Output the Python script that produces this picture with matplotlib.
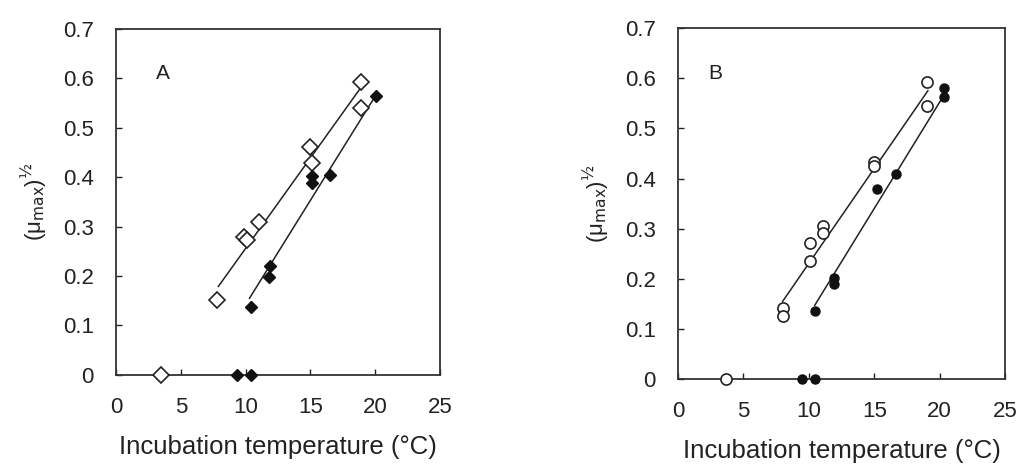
import matplotlib
matplotlib.use("Agg")
import matplotlib.pyplot as plt

plt.rcParams["font.family"] = ["Liberation Sans", "DejaVu Sans"]

# panel A
a_open_x = [3.5, 7.8, 9.9, 10.1, 11.0, 15.0, 15.1, 18.9, 18.9]
a_open_y = [0.0, 0.152, 0.28, 0.273, 0.31, 0.462, 0.429, 0.592, 0.54]
a_fill_x = [9.3, 10.4, 10.4, 11.9, 11.8, 15.1, 15.1, 16.5, 20.1]
a_fill_y = [0.0, 0.0, 0.137, 0.221, 0.199, 0.402, 0.388, 0.404, 0.564]
a_line1_x = [7.9, 18.8]
a_line1_y = [0.179, 0.578]
a_line2_x = [10.3, 20.0]
a_line2_y = [0.155, 0.564]

# panel B
b_open_x = [3.65, 8.0, 8.0, 10.1, 10.1, 11.05, 11.05, 15.0, 15.0, 19.05, 19.05]
b_open_y = [0.0, 0.142, 0.125, 0.272, 0.235, 0.305, 0.292, 0.432, 0.425, 0.593, 0.545]
b_fill_x = [9.45, 10.45, 10.45, 11.9, 11.9, 15.2, 16.7, 20.3, 20.3]
b_fill_y = [0.0, 0.0, 0.135, 0.202, 0.189, 0.38, 0.409, 0.58, 0.562]
b_line1_x = [8.0, 19.1]
b_line1_y = [0.155, 0.575]
b_line2_x = [10.45, 20.3]
b_line2_y = [0.147, 0.565]

x_ticks = [0, 5, 10, 15, 20, 25]
y_ticks = [0, 0.1, 0.2, 0.3, 0.4, 0.5, 0.6, 0.7]
y_tick_labels = ["0", "0.1", "0.2", "0.3", "0.4", "0.5", "0.6", "0.7"]

fig = plt.figure(figsize=(10.22, 4.68), dpi=100)
ax_a = fig.add_axes([0.1135, 0.199, 0.317, 0.739])
ax_b = fig.add_axes([0.6634, 0.190, 0.320, 0.750])

text_color = "#222222"


def style(ax, label, label_x):
    ax.set_xlim(0, 25)
    ax.set_ylim(0, 0.7)
    ax.set_xticks(x_ticks)
    ax.set_yticks(y_ticks)
    ax.set_yticklabels(y_tick_labels)
    ax.tick_params(direction="in", length=4, width=1, labelsize=16,
                   colors=text_color, pad=16)
    for s in ax.spines.values():
        s.set_linewidth(1.3)
        s.set_color("#333333")
    ax.set_xlabel("Incubation temperature (°C)", fontsize=18.5,
                  color=text_color, labelpad=12)
    ax.set_ylabel("(μ$_{\\mathrm{max}}$)$^{½}$", fontsize=16,
                  color=text_color, labelpad=10)
    ax.text(label_x, 0.87, label, transform=ax.transAxes, fontsize=15,
            color=text_color, ha="center", va="center")


ax_a.plot(a_line1_x, a_line1_y, color="#222222", lw=1.1)
ax_a.plot(a_line2_x, a_line2_y, color="#222222", lw=1.1)
ax_a.plot(a_open_x, a_open_y, "D", ms=8, mfc="white", mec="#222222",
          mew=1.2, ls="none", clip_on=False, zorder=3)
ax_a.plot(a_fill_x, a_fill_y, "D", ms=6, mfc="#111111", mec="#111111",
          ls="none", clip_on=False, zorder=3)
style(ax_a, "A", 0.145)

ax_b.plot(b_line1_x, b_line1_y, color="#222222", lw=1.1)
ax_b.plot(b_line2_x, b_line2_y, color="#222222", lw=1.1)
ax_b.plot(b_open_x, b_open_y, "o", ms=8, mfc="white", mec="#222222",
          mew=1.2, ls="none", clip_on=False, zorder=3)
ax_b.plot(b_fill_x, b_fill_y, "o", ms=6.5, mfc="#111111", mec="#111111",
          ls="none", clip_on=False, zorder=3)
style(ax_b, "B", 0.115)

fig.savefig("out.png", dpi=100)
